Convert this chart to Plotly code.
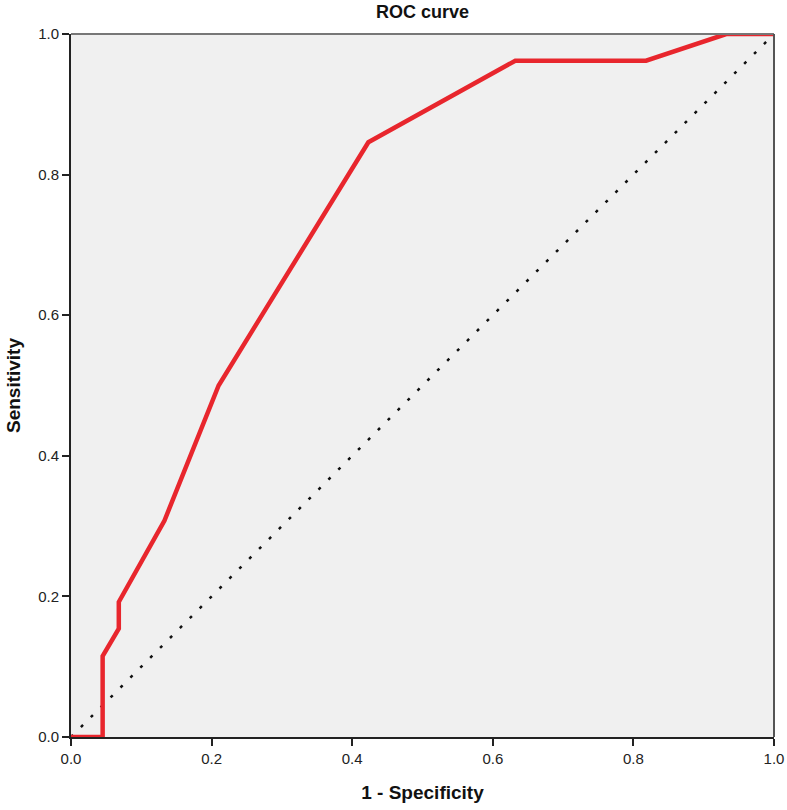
import plotly.graph_objects as go

# ROC curve data (1 - Specificity, Sensitivity)
fpr = [0.0, 0.045, 0.045, 0.068, 0.068, 0.133, 0.21, 0.423, 0.632, 0.818, 0.932, 1.0]
tpr = [0.0, 0.0, 0.115, 0.154, 0.192, 0.308, 0.5, 0.846, 0.962, 0.962, 1.0, 1.0]

ref_x = [0.0, 1.0]
ref_y = [0.0, 1.0]

tick_vals = [0.0, 0.2, 0.4, 0.6, 0.8, 1.0]
tick_text = ["0.0", "0.2", "0.4", "0.6", "0.8", "1.0"]

fig = go.Figure()
fig.add_trace(go.Scatter(x=ref_x, y=ref_y, mode="lines",
                         line=dict(color="#111111", width=2.5, dash="3px,11px"),
                         showlegend=False, hoverinfo="skip"))
fig.add_trace(go.Scatter(x=fpr, y=tpr, mode="lines",
                         line=dict(color="#E8262D", width=4.5),
                         showlegend=False))

font_family = "Liberation Sans, Arial, sans-serif"

axis_common = dict(
    range=[0, 1], tickvals=tick_vals, ticktext=tick_text,
    showgrid=False, zeroline=False, showline=True, linecolor="#222222",
    linewidth=2, ticks="outside", ticklen=7, tickwidth=2, tickcolor="#222222",
    tickfont=dict(size=15, color="#222222"), automargin=False,
)

fig.update_layout(
    width=787, height=810,
    margin=dict(l=71, r=13, t=34, b=73),
    paper_bgcolor="white",
    plot_bgcolor="#F0F0F0",
    font=dict(family=font_family, color="#111111", size=15),
    title=dict(text="<b>ROC curve</b>", x=0.5, xanchor="center", xref="paper",
               y=0.985, yref="container", yanchor="middle",
               font=dict(size=18, color="#111111")),
    xaxis=dict(axis_common,
               title=dict(text="<b>1 - Specificity</b>", font=dict(size=19), standoff=20)),
    yaxis=dict(axis_common,
               title=dict(text="<b>Sensitivity</b>", font=dict(size=19), standoff=12)),
    shapes=[
        dict(type="line", xref="paper", yref="paper", x0=0, x1=1, y0=1, y1=1,
             line=dict(color="#777777", width=2)),
        dict(type="line", xref="paper", yref="paper", x0=1, x1=1, y0=0, y1=1,
             line=dict(color="#555555", width=2)),
    ],
)

fig.write_html("out.html", config={"displayModeBar": False},
               post_script="document.body.style.margin='0';document.body.style.overflow='hidden';")
